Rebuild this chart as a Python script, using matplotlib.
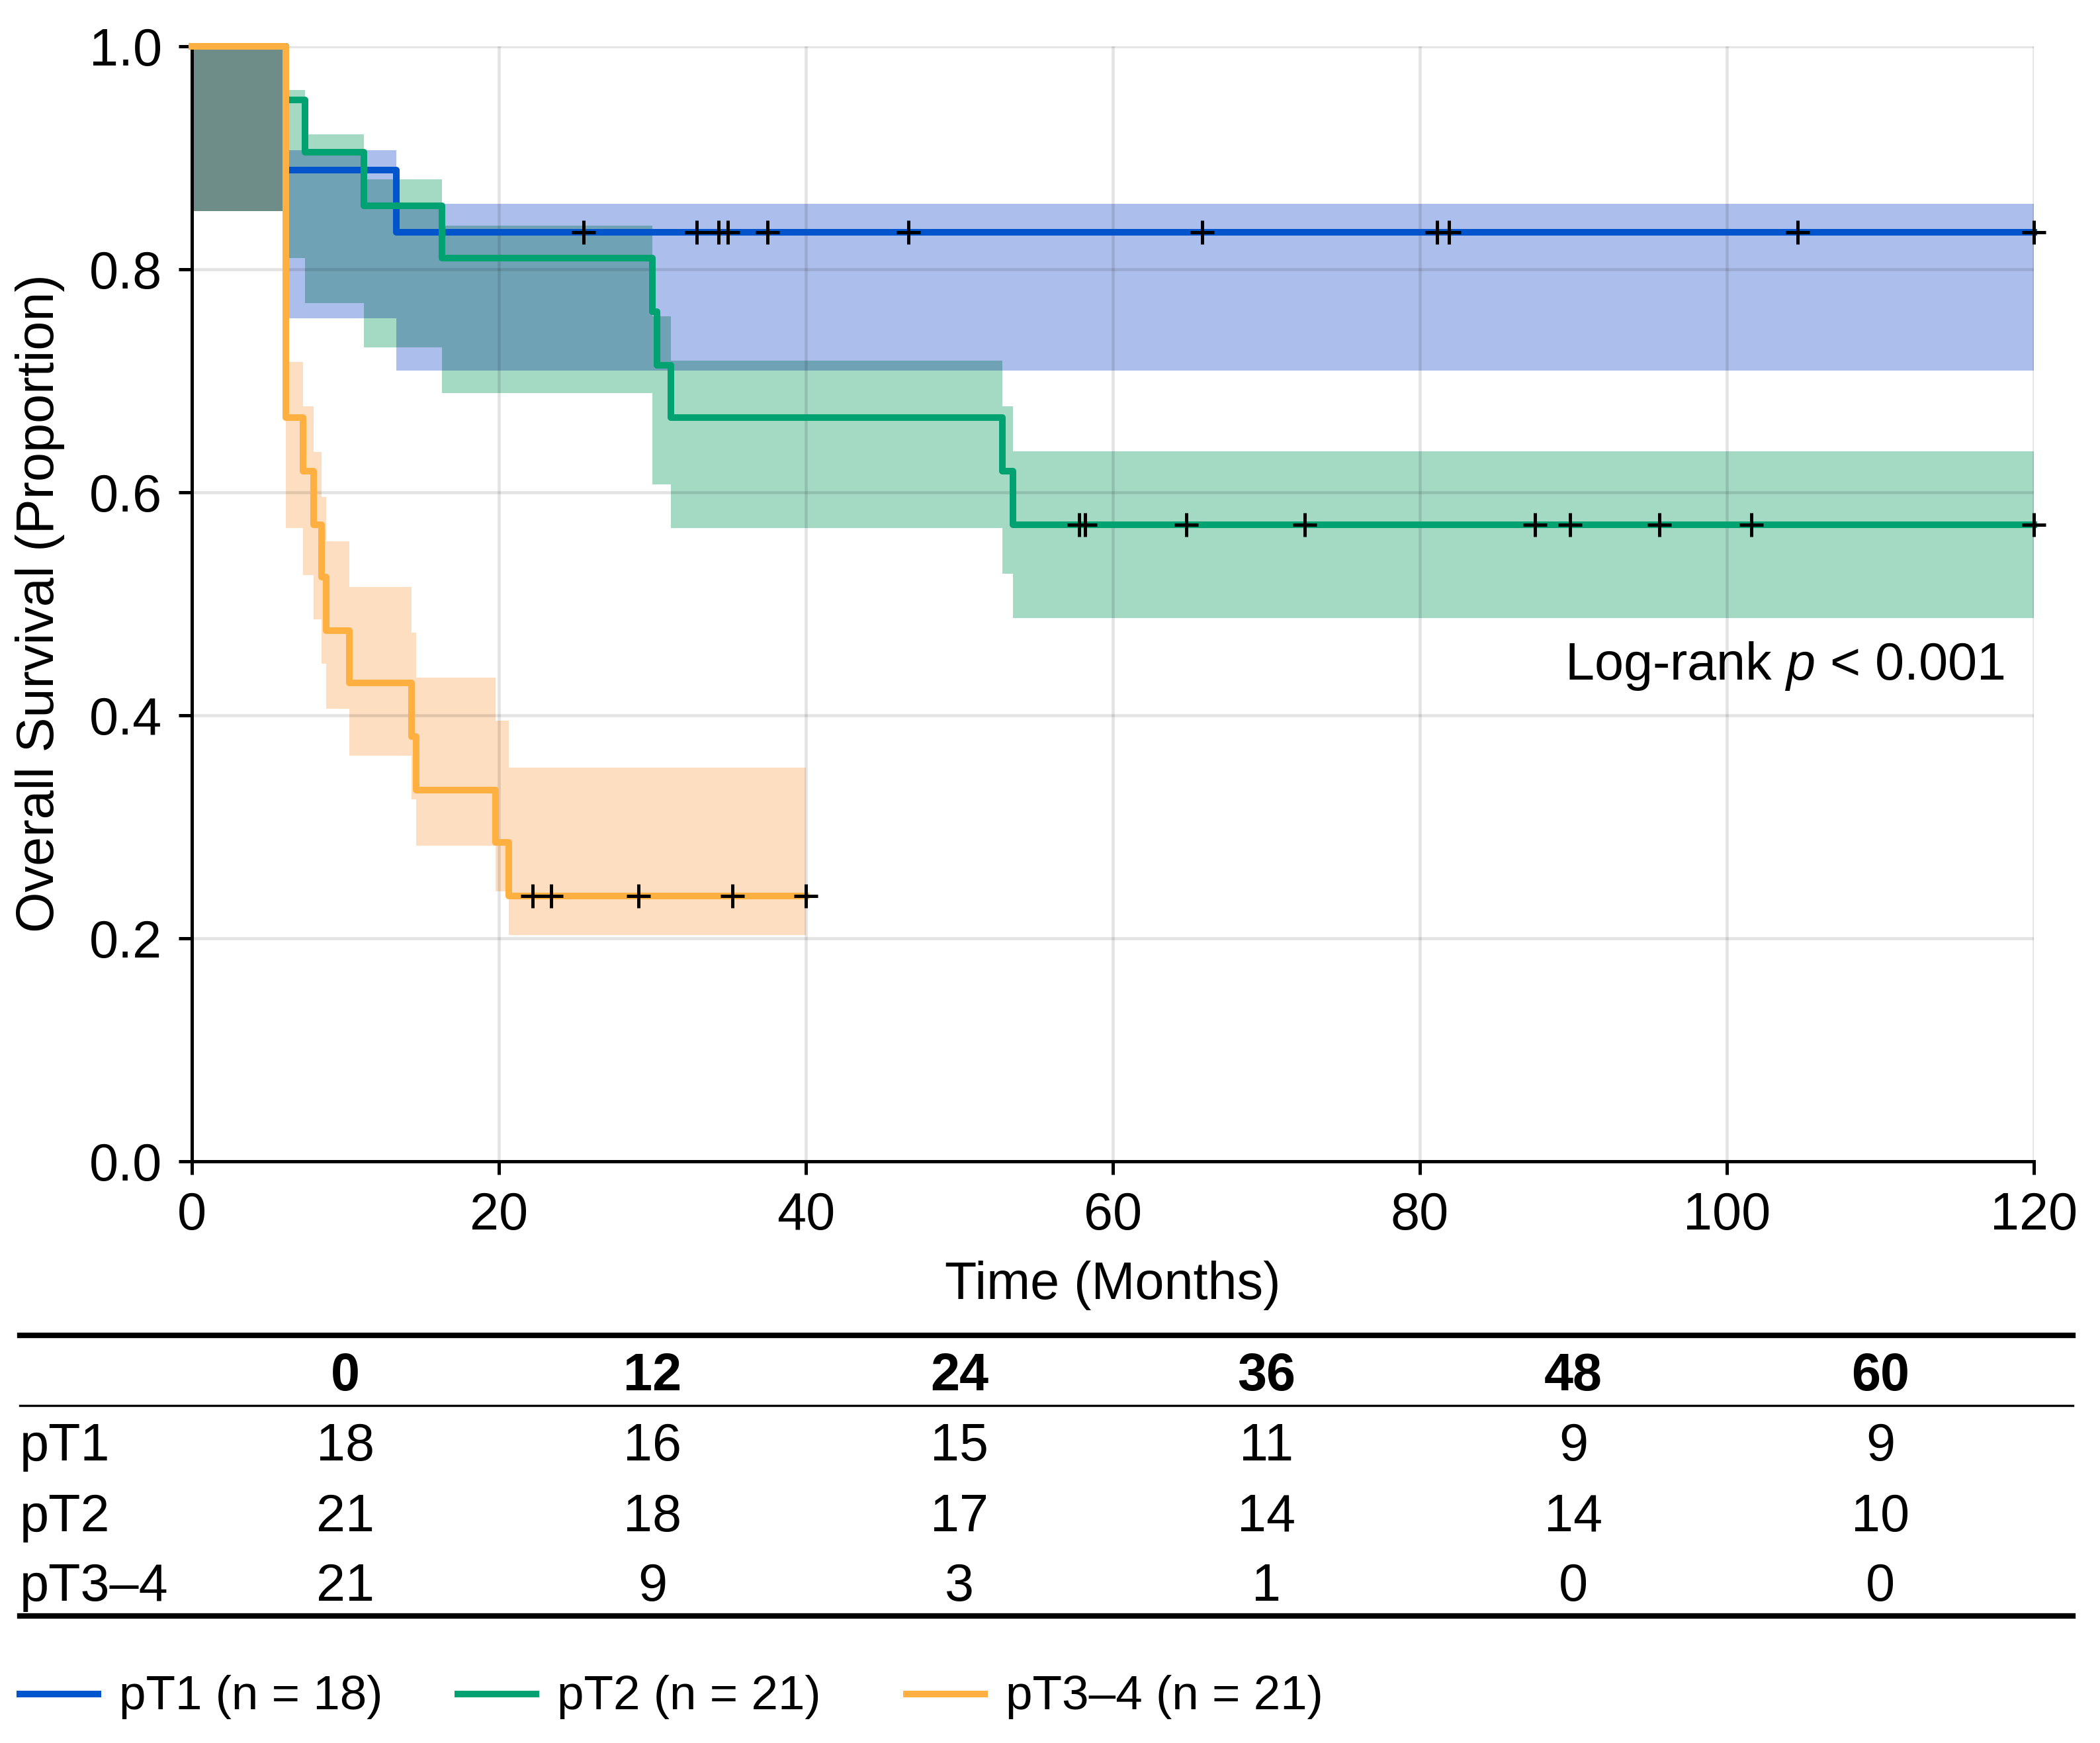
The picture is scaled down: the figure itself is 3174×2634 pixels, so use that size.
import numpy as np
import matplotlib
matplotlib.use("Agg")
import matplotlib.pyplot as plt
import matplotlib.transforms as mtransforms
from matplotlib.lines import Line2D
from matplotlib.ticker import FormatStrFormatter

plt.rcParams['font.family'] = ['Liberation Sans', 'DejaVu Sans']
plt.rcParams['mathtext.fontset'] = 'custom'
plt.rcParams['mathtext.it'] = 'Liberation Sans:italic'
plt.rcParams['mathtext.rm'] = 'Liberation Sans'

# ---- data ----
groups = ['pT1', 'pT2', 'pT3–4']
group_n = [18, 21, 21]

# Kaplan-Meier steps: time of step, survival after step
pt1_t = [0, 6.1, 13.3]
pt1_s = [1.0, 0.889, 0.833]
pt1_end = 120
pt1_cens = [25.5, 32.9, 34.3, 34.9, 37.5, 46.7, 65.8, 81.1, 81.9, 104.6, 120]

pt2_t = [0, 6.1, 7.35, 11.2, 16.3, 30.0, 30.3, 31.2, 52.8, 53.5]
pt2_s = [1.0, 0.952, 0.905, 0.857, 0.810, 0.762, 0.714, 0.667, 0.619, 0.571]
pt2_end = 120
pt2_cens = [57.8, 58.2, 64.8, 72.5, 87.5, 89.8, 95.6, 101.6, 120]

pt3_t = [0, 6.1, 7.26, 7.95, 8.44, 8.74, 10.28, 14.3, 14.6, 19.8, 20.65]
pt3_s = [1.0, 0.667, 0.619, 0.571, 0.524, 0.476, 0.429, 0.381, 0.333, 0.286, 0.238]
pt3_end = 40
pt3_cens = [22.2, 23.4, 29.1, 35.2, 40.0]

# confidence bands: step edges, lower, upper
pt1_ci_t = [0, 6.1, 13.3]
pt1_lo = [0.852, 0.756, 0.709]
pt1_hi = [1.0, 0.907, 0.859]

pt2_ci_t = [0, 6.1, 7.35, 11.2, 16.3, 30.0, 31.2, 52.8, 53.5]
pt2_lo = [0.852, 0.810, 0.770, 0.730, 0.689, 0.607, 0.568, 0.527, 0.487]
pt2_hi = [1.0, 0.961, 0.921, 0.881, 0.839, 0.758, 0.718, 0.677, 0.637]

pt3_ci_t = [0, 6.1, 7.26, 7.95, 8.44, 8.74, 10.28, 14.3, 14.6, 19.8, 20.65]
pt3_lo = [0.852, 0.568, 0.526, 0.486, 0.446, 0.406, 0.364, 0.3245, 0.283, 0.242, 0.203]
pt3_hi = [1.0, 0.717, 0.677, 0.636, 0.596, 0.556, 0.515, 0.474, 0.434, 0.395, 0.353]

# number at risk
risk_times = [0, 12, 24, 36, 48, 60]
risk_pt1 = [18, 16, 15, 11, 9, 9]
risk_pt2 = [21, 18, 17, 14, 14, 10]
risk_pt3 = [21, 9, 3, 1, 0, 0]

line_colors = ['#0055CC', '#00A271', '#FFB040']
fill_colors = ['#ACBEEB', '#A4D9C4', '#FDDEC0']

curves = [(pt1_t, pt1_s, pt1_end, pt1_cens),
          (pt2_t, pt2_s, pt2_end, pt2_cens),
          (pt3_t, pt3_s, pt3_end, pt3_cens)]
bands = [(pt1_ci_t, pt1_lo, pt1_hi, pt1_end),
         (pt2_ci_t, pt2_lo, pt2_hi, pt2_end),
         (pt3_ci_t, pt3_lo, pt3_hi, pt3_end)]
risk_rows = [risk_pt1, risk_pt2, risk_pt3]

W, H = 3174, 2634
fig = plt.figure(figsize=(W / 300, H / 300), dpi=300)
ax = fig.add_axes([290 / W, 1 - 1755 / H, 2784 / W, 1685 / H])


def step_vals(edges, vals, end, grid):
    out = np.full(len(grid) - 1, np.nan)
    mids = (grid[:-1] + grid[1:]) / 2
    idx = np.searchsorted(edges, mids, side='right') - 1
    ok = (idx >= 0) & (mids < end)
    out[ok] = np.asarray(vals, dtype=float)[idx[ok]]
    return out


def fill_runs(grid, lo, hi, color, z):
    ok = ~np.isnan(lo) & ~np.isnan(hi)
    ok[ok] = hi[ok] > lo[ok]
    i, n = 0, len(ok)
    while i < n:
        if not ok[i]:
            i += 1
            continue
        j = i
        while j < n and ok[j]:
            j += 1
        ax.fill_between(grid[i:j + 1], np.append(lo[i:j], lo[j - 1]),
                        np.append(hi[i:j], hi[j - 1]), step='post',
                        color=color, lw=0, zorder=z)
        i = j


# common time grid for the bands
grid = np.unique(np.concatenate([b[0] for b in bands] + [[b[3] for b in bands]]))
los = [step_vals(b[0], b[1], b[3], grid) for b in bands]
his = [step_vals(b[0], b[2], b[3], grid) for b in bands]
rgb = [np.array(matplotlib.colors.to_rgb(c)) for c in fill_colors]

# single bands, then overlaps drawn with multiplied colours
for k in range(3):
    fill_runs(grid, los[k], his[k], rgb[k], 1.0)
for a, b in [(0, 1), (0, 2), (1, 2)]:
    fill_runs(grid, np.maximum(los[a], los[b]), np.minimum(his[a], his[b]),
              rgb[a] * rgb[b], 1.1)
fill_runs(grid, np.maximum(np.maximum(los[0], los[1]), los[2]),
          np.minimum(np.minimum(his[0], his[1]), his[2]),
          rgb[0] * rgb[1] * rgb[2], 1.2)

# KM curves
for (t, s, end, cens), col in zip(curves, line_colors):
    ax.step(np.append(t, end), np.append(s, s[-1]), where='post',
            color=col, lw=2.4, clip_on=False, zorder=3)
for (t, s, end, cens), col in zip(curves, line_colors):
    idx = np.searchsorted(t, cens, side='right') - 1
    ax.plot(cens, np.asarray(s)[idx], ls='none', marker='+', ms=8.5, mew=1.2,
            color='black', clip_on=False, zorder=4)

ax.set_xlim(0, 120)
ax.set_ylim(0, 1.0)
ax.set_xticks(np.arange(0, 121, 20))
ax.set_yticks(np.arange(0, 1.01, 0.2))
ax.yaxis.set_major_formatter(FormatStrFormatter('%.1f'))
ax.set_axisbelow(False)
ax.grid(True, color='black', alpha=0.11, lw=1.1)
for sp in ['top', 'right']:
    ax.spines[sp].set_visible(False)
for sp in ['left', 'bottom']:
    ax.spines[sp].set_linewidth(1.2)
ax.tick_params(direction='out', length=4.8, width=1.2, labelsize=19)
ax.tick_params(axis='x', pad=6)
ax.tick_params(axis='y', pad=6)

ax.text(118.1, 0.432, 'Log-rank $p$ < 0.001', ha='right', va='baseline', fontsize=19)

fig.text(1682 / W, 1 - 1963 / H, 'Time (Months)', ha='center', va='baseline', fontsize=19)
fig.text(61 / W, 1 - 912 / H, 'Overall Survival (Proportion)', rotation=90,
         ha='center', va='center', fontsize=19)

# ---- number-at-risk table ----
x0, x1 = 30 / W, 3133 / W
fig.add_artist(Line2D([x0, x1], [1 - 2017.5 / H] * 2, color='black', lw=2.0))
fig.add_artist(Line2D([x0, x1], [1 - 2124.3 / H] * 2, color='black', lw=0.8))
fig.add_artist(Line2D([x0, x1], [1 - 2442 / H] * 2, color='black', lw=2.0))

trans = mtransforms.blended_transform_factory(ax.transData, fig.transFigure)
col_x = np.arange(len(risk_times)) * 20 + 10
for cx, rt in zip(col_x, risk_times):
    fig.text(cx, 1 - 2101 / H, str(rt), transform=trans, ha='center',
             va='baseline', fontsize=19, fontweight='bold')
row_base = [2207.3, 2313.6, 2419]
for name, row, yb in zip(groups, risk_rows, row_base):
    fig.text(x0, 1 - yb / H, name, ha='left', va='baseline', fontsize=19)
    for cx, v in zip(col_x, row):
        fig.text(cx, 1 - yb / H, str(v), transform=trans, ha='center',
                 va='baseline', fontsize=19)

# ---- legend ----
leg_x = [30, 692, 1370]
leg_y = 1 - 2560 / H
for lx, name, n, col in zip(leg_x, groups, group_n, line_colors):
    fig.add_artist(Line2D([lx / W, (lx + 118) / W], [leg_y, leg_y], color=col, lw=2.4))
    fig.text((lx + 150) / W, 1 - 2582.6 / H, f'{name} (n = {n})', ha='left',
             va='baseline', fontsize=17.5)

fig.savefig('out.png', dpi=300)
